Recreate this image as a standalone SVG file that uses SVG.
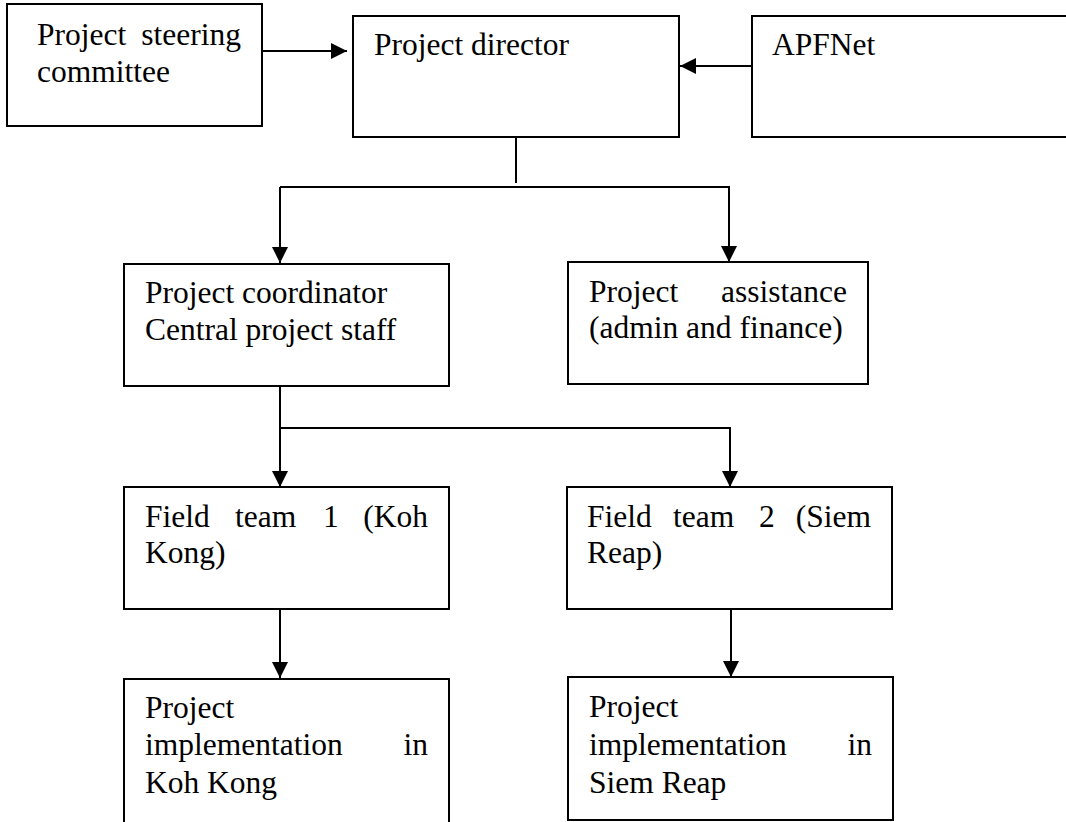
<svg xmlns="http://www.w3.org/2000/svg" width="1066" height="822" viewBox="0 0 1066 822">
<style>
.box{fill:#fff;stroke:#000;stroke-width:2}
.t{font-family:"Liberation Serif","Times New Roman",serif;font-size:31.5px;fill:#000}
.e{text-anchor:end}
.c{fill:none;stroke:#000;stroke-width:2}
</style>
<defs>
<marker id="ah" markerWidth="17" markerHeight="16" refX="16" refY="8" orient="auto" markerUnits="userSpaceOnUse">
<path d="M0,0 L16,8 L0,16 Z" fill="#000"/>
</marker>
</defs>
<rect width="1066" height="822" fill="#fff"/>
<g id="steering">
<rect class="box" x="7" y="4" width="255" height="122"/>
<text class="t" x="37" y="45">Project</text>
<text class="t e" x="241" y="45">steering</text>
<text class="t" x="37" y="82">committee</text>
</g>
<g id="director">
<rect class="box" x="353" y="16" width="326" height="121"/>
<text class="t" x="374" y="55">Project director</text>
</g>
<g id="apfnet">
<rect class="box" x="752" y="16" width="330" height="121"/>
<text class="t" x="772" y="55">APFNet</text>
</g>
<g id="coordinator">
<rect class="box" x="124" y="264" width="325" height="122"/>
<text class="t" x="145" y="303">Project coordinator</text>
<text class="t" x="145" y="340">Central project staff</text>
</g>
<g id="assistance">
<rect class="box" x="568" y="262" width="300" height="122"/>
<text class="t" x="589" y="302">Project</text>
<text class="t e" x="847" y="302">assistance</text>
<text class="t" x="589" y="338">(admin and finance)</text>
</g>
<g id="field1">
<rect class="box" x="124" y="487" width="325" height="122"/>
<text class="t" x="145" y="527">Field</text>
<text class="t" x="235" y="527">team</text>
<text class="t" x="323" y="527">1</text>
<text class="t e" x="428" y="527">(Koh</text>
<text class="t" x="145" y="563">Kong)</text>
</g>
<g id="field2">
<rect class="box" x="567" y="487" width="325" height="122"/>
<text class="t" x="587" y="527">Field</text>
<text class="t" x="673" y="527">team</text>
<text class="t" x="759" y="527">2</text>
<text class="t e" x="871" y="527">(Siem</text>
<text class="t" x="587" y="563">Reap)</text>
</g>
<g id="impl1">
<rect class="box" x="124" y="679" width="325" height="160"/>
<text class="t" x="145" y="718">Project</text>
<text class="t" x="145" y="755">implementation</text>
<text class="t e" x="428" y="755">in</text>
<text class="t" x="145" y="793">Koh Kong</text>
</g>
<g id="impl2">
<rect class="box" x="568" y="677" width="325" height="143"/>
<text class="t" x="589" y="717">Project</text>
<text class="t" x="589" y="755">implementation</text>
<text class="t e" x="872" y="755">in</text>
<text class="t" x="589" y="793">Siem Reap</text>
</g>
<g id="connectors">
<line class="c" x1="262" y1="51" x2="347" y2="51" marker-end="url(#ah)"/>
<line class="c" x1="752" y1="66" x2="680" y2="66" marker-end="url(#ah)"/>
<line class="c" x1="516" y1="137" x2="516" y2="183"/>
<line class="c" x1="280" y1="187" x2="730" y2="187"/>
<line class="c" x1="280" y1="187" x2="280" y2="263" marker-end="url(#ah)"/>
<line class="c" x1="729" y1="187" x2="729" y2="262" marker-end="url(#ah)"/>
<line class="c" x1="280" y1="386" x2="280" y2="428"/>
<line class="c" x1="280" y1="428" x2="731" y2="428"/>
<line class="c" x1="280" y1="428" x2="280" y2="487" marker-end="url(#ah)"/>
<line class="c" x1="730" y1="428" x2="730" y2="487" marker-end="url(#ah)"/>
<line class="c" x1="280" y1="609" x2="280" y2="678" marker-end="url(#ah)"/>
<line class="c" x1="731" y1="609" x2="731" y2="677" marker-end="url(#ah)"/>
</g>
</svg>
